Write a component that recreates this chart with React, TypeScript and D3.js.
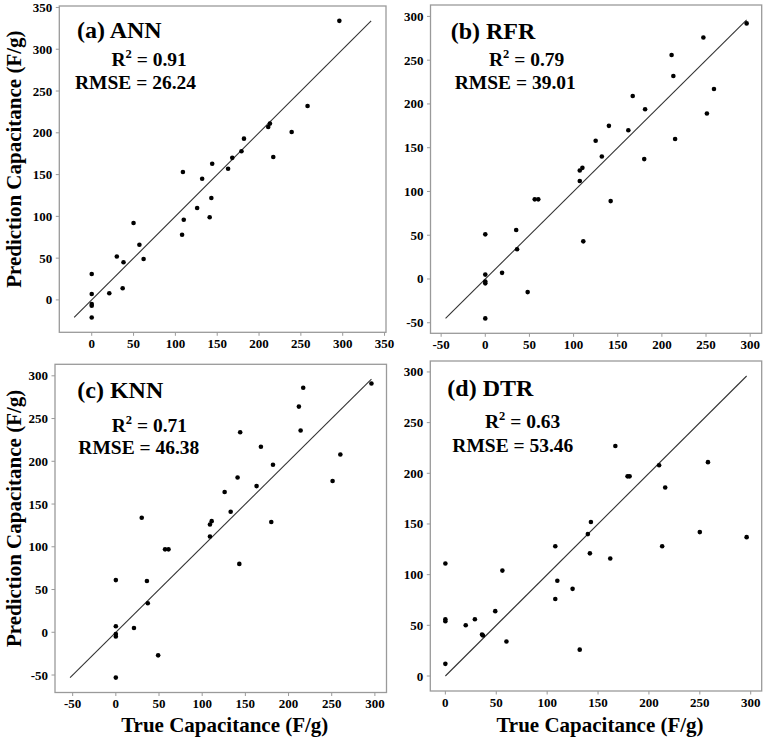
import React from 'react';
import * as d3 from 'd3';

// ---- data ----
const annTrue = [0, 0, 0, 0, 0, 21, 30, 37, 38, 50, 57, 62, 108, 109, 110, 126, 132, 141, 143, 144, 163, 168, 179, 182, 211, 213, 217, 239, 258, 296];
const annPred = [31, 7, -5, -7, -21, 8, 52, 14, 45, 92, 66, 49, 78, 153, 96, 110, 145, 99, 122, 163, 157, 170, 178, 193, 207, 211, 171, 201, 232, 334];

const rfrTrue = [0, 0, 0, 0, 0, 19, 35, 36, 48, 56, 60, 107, 107, 110, 111, 125, 132, 140, 142, 162, 167, 180, 181, 211, 213, 215, 247, 251, 259, 296];
const rfrPred = [51, 5, -3, -5, -45, 7, 56, 34, -15, 91, 91, 112, 124, 127, 43, 158, 140, 175, 89, 170, 209, 137, 194, 256, 232, 160, 276, 189, 217, 292];

const knnTrue = [0, 0, 0, 0, 0, 21, 30, 36, 37, 49, 57, 61, 109, 109, 111, 126, 133, 141, 143, 144, 163, 168, 180, 182, 212, 214, 217, 251, 260, 296];
const knnPred = [61, 7, -2, -5, -53, 5, 134, 60, 34, -27, 97, 97, 112, 126, 130, 164, 141, 181, 80, 234, 171, 217, 129, 196, 264, 236, 286, 177, 208, 291];

const dtrTrue = [0, 0, 0, 0, 20, 29, 36, 37, 49, 56, 60, 108, 108, 110, 125, 132, 140, 142, 143, 162, 167, 179, 181, 210, 213, 216, 250, 258, 296];
const dtrPred = [111, 56, 54, 12, 50, 56, 41, 40, 64, 104, 34, 76, 128, 94, 86, 26, 140, 121, 152, 116, 227, 197, 197, 208, 128, 186, 142, 211, 137];

const ticksA = [0, 50, 100, 150, 200, 250, 300, 350];
const ticksBC = [-50, 0, 50, 100, 150, 200, 250, 300];
const ticksD = [0, 50, 100, 150, 200, 250, 300];

const titles = ['(a) ANN', '(b) RFR', '(c) KNN', '(d) DTR'];
const r2Values = ['0.91', '0.79', '0.71', '0.63'];
const rmseValues = ['26.24', '39.01', '46.38', '53.46'];

const xAxisTitle = 'True Capacitance (F/g)';
const yAxisTitle = 'Prediction Capacitance (F/g)';

// ---- layout ----
const FONT = '"Liberation Serif", "Times New Roman", serif';
const FRAME = '#9a9a9a';

type Box = { l: number; r: number; t: number; b: number };
type Txt = { tx: number; ty: number; rx: number; ry: number; mx: number; my: number };

const layouts: { box: Box; txt: Txt; xTitle: boolean; yTitle: boolean }[] = [
  { box: { l: 59.3, r: 386, t: 6, b: 332.3 }, txt: { tx: 77, ty: 38, rx: 111.5, ry: 66, mx: 75, my: 89.3 }, xTitle: false, yTitle: true },
  { box: { l: 430.5, r: 761.7, t: 5, b: 333.3 }, txt: { tx: 450.7, ty: 39, rx: 489, ry: 65.7, mx: 454.7, my: 89 }, xTitle: false, yTitle: false },
  { box: { l: 55, r: 386.5, t: 364.3, b: 692.5 }, txt: { tx: 77.3, ty: 398.3, rx: 111.7, ry: 431.7, mx: 78.3, my: 454 }, xTitle: true, yTitle: true },
  { box: { l: 430.3, r: 761.7, t: 361, b: 691 }, txt: { tx: 447.3, ty: 395.7, rx: 485, ry: 428.3, mx: 452.3, my: 451.7 }, xTitle: true, yTitle: false },
];

const panelData = [
  { xs: annTrue, ys: annPred, ticks: ticksA },
  { xs: rfrTrue, ys: rfrPred, ticks: ticksBC },
  { xs: knnTrue, ys: knnPred, ticks: ticksBC },
  { xs: dtrTrue, ys: dtrPred, ticks: ticksD },
];

function Panel({ idx }: { idx: number }) {
  const { xs, ys, ticks } = panelData[idx];
  const { box, txt, xTitle, yTitle } = layouts[idx];
  const all = xs.concat(ys);
  const lo = d3.min(all) as number;
  const hi = d3.max(all) as number;
  const pad = (hi - lo) * 0.05;
  const domain: [number, number] = [lo - pad, hi + pad];
  const x = d3.scaleLinear().domain(domain).range([box.l, box.r]);
  const y = d3.scaleLinear().domain(domain).range([box.b, box.t]);
  const pts = xs.map((v, i) => [v, ys[i]] as [number, number]);
  const line = d3.line<[number, number]>().x((d) => x(d[0])).y((d) => y(d[1]));
  const tk = ticks.filter((t) => t >= domain[0] && t <= domain[1]);

  return (
    <g>
      <rect x={box.l} y={box.t} width={box.r - box.l} height={box.b - box.t} fill="none" stroke={FRAME} strokeWidth={1.3} />
      {tk.map((t) => (
        <g key={'x' + t}>
          <line x1={x(t)} x2={x(t)} y1={box.b} y2={box.b + 3.5} stroke={FRAME} strokeWidth={1} />
          <text x={x(t)} y={box.b + 15.8} textAnchor="middle" fontFamily={FONT} fontWeight="bold" fontSize={13}>
            {t}
          </text>
        </g>
      ))}
      {tk.map((t) => (
        <g key={'y' + t}>
          <line x1={box.l - 3.5} x2={box.l} y1={y(t)} y2={y(t)} stroke={FRAME} strokeWidth={1} />
          <text x={box.l - 7} y={y(t) + 4.5} textAnchor="end" fontFamily={FONT} fontWeight="bold" fontSize={13}>
            {t}
          </text>
        </g>
      ))}
      <path d={line([[lo, lo], [hi, hi]]) as string} stroke="#333" strokeWidth={1.1} fill="none" />
      {pts.map((p, i) => (
        <circle key={i} cx={x(p[0])} cy={y(p[1])} r={2.3} fill="#000" />
      ))}
      <text x={txt.tx} y={txt.ty} fontFamily={FONT} fontWeight="bold" fontSize={24}>
        {titles[idx]}
      </text>
      <text x={txt.rx} y={txt.ry} fontFamily={FONT} fontWeight="bold" fontSize={19.5}>
        R
        <tspan dy={-8} fontSize={12.5}>2</tspan>
        <tspan dy={8}>{' = ' + r2Values[idx]}</tspan>
      </text>
      <text x={txt.mx} y={txt.my} fontFamily={FONT} fontWeight="bold" fontSize={19.5}>
        {'RMSE = ' + rmseValues[idx]}
      </text>
      {xTitle && (
        <text x={(box.l + box.r) / 2 + 4} y={732.3} textAnchor="middle" fontFamily={FONT} fontWeight="bold" fontSize={21}>
          {xAxisTitle}
        </text>
      )}
      {yTitle && (
        <text
          transform={`translate(21,${(box.t + box.b) / 2 - 10}) rotate(-90)`}
          textAnchor="middle"
          fontFamily={FONT}
          fontWeight="bold"
          fontSize={21}
        >
          {yAxisTitle}
        </text>
      )}
    </g>
  );
}

export default function App() {
  return (
    <svg width={767} height={739} style={{ position: 'absolute', left: 0, top: 0, background: '#fff' }}>
      <rect x={0} y={0} width={767} height={739} fill="#fff" />
      {[0, 1, 2, 3].map((i) => (
        <Panel key={i} idx={i} />
      ))}
    </svg>
  );
}
